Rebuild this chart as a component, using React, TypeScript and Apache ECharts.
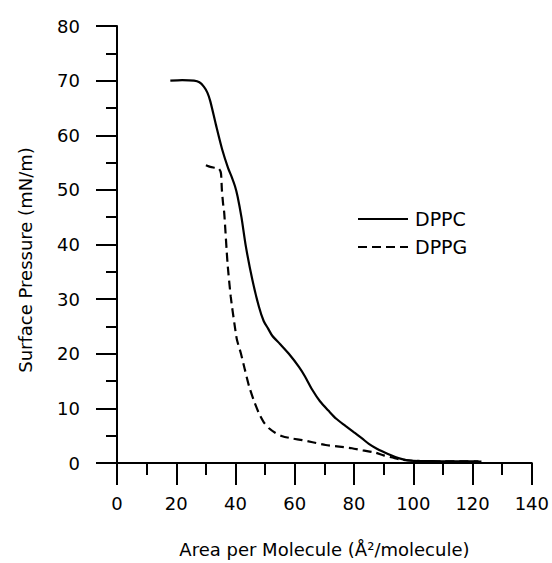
import React, { useEffect, useRef } from "react";
import * as echarts from "echarts";

const xTicks = [0, 20, 40, 60, 80, 100, 120, 140];
const yTicks = [0, 10, 20, 30, 40, 50, 60, 70, 80];

const seriesNames = ["DPPC", "DPPG"];

const dppcArea = [18, 22, 26, 27.8, 29.3, 30.5, 31.5, 33.4, 35.5, 37.5, 38.7, 39.8, 40.7, 42, 43.5, 45.7, 47.9, 49.5, 51, 52.4, 55, 58, 61.4, 63.5, 65.9, 68.5, 71.5, 74, 77.1, 80, 82.7, 85, 87.7, 90, 92.5, 95, 98, 100, 105, 110, 115, 120, 123];
const dppcPressure = [70, 70.1, 70, 69.7, 68.9, 67.8, 66.2, 61.9, 57.4, 54.0, 52.4, 50.7, 48.8, 45, 39.6, 33.5, 28.6, 26.0, 24.6, 23.3, 21.8, 20.0, 17.6, 15.8, 13.4, 11.3, 9.5, 8.1, 6.8, 5.6, 4.5, 3.5, 2.6, 2.0, 1.4, 0.9, 0.5, 0.4, 0.35, 0.3, 0.3, 0.3, 0.25];

const dppgArea = [30, 31.5, 33.4, 34.5, 35.1, 35.4, 35.8, 36.2, 37.3, 38.4, 39.6, 40.5, 41.8, 43.2, 44.6, 46.2, 47.9, 49.5, 51.3, 53.5, 55.8, 59, 62.5, 66, 70.4, 75, 79.3, 83, 87.2, 90, 93, 96, 100, 105, 110, 115, 122];
const dppgPressure = [54.5, 54.2, 54, 53.8, 53, 50, 47.5, 45.7, 36.6, 30.4, 25.6, 22.5, 20.1, 17, 14.0, 11.4, 9.1, 7.5, 6.35, 5.5, 4.9, 4.5, 4.2, 3.8, 3.3, 3.0, 2.7, 2.3, 1.9, 1.4, 1.0, 0.6, 0.4, 0.35, 0.3, 0.3, 0.3];

const xTitle = "Area per Molecule (Å²/molecule)";
const yTitle = "Surface Pressure (mN/m)";

const FONT = "DejaVu Sans";
const DASH = [9, 5];

export default function App() {
  const ref = useRef<HTMLDivElement>(null);
  useEffect(() => {
    if (!ref.current) return;
    const chart = echarts.init(ref.current, null, { renderer: "svg" });
    const zip = (a: number[], b: number[]) => a.map((v, i) => [v, b[i]]);
    const axisCommon = {
      axisLine: { show: true, lineStyle: { color: "#000", width: 2 } },
      axisTick: { show: true, inside: false, lineStyle: { color: "#000", width: 2 } },
      minorTick: { show: true, splitNumber: 2, lineStyle: { color: "#000", width: 2 } },
      splitLine: { show: false },
    };
    const legendRows = [219, 247];
    const legendGraphics: any[] = [];
    seriesNames.forEach((name, i) => {
      legendGraphics.push({
        type: "line",
        shape: { x1: 358, y1: legendRows[i], x2: 408, y2: legendRows[i] },
        style: { stroke: "#000", lineWidth: 2.2, lineDash: i === 0 ? null : DASH },
      });
      legendGraphics.push({
        type: "text",
        x: 415,
        y: legendRows[i],
        style: {
          text: name,
          fill: "#000",
          font: `19px "${FONT}"`,
          align: "left",
          verticalAlign: "middle",
        },
      });
    });
    chart.setOption({
      animation: false,
      backgroundColor: "#fff",
      grid: { left: 117, right: 18, top: 26, bottom: 100, containLabel: false },
      xAxis: {
        type: "value",
        min: xTicks[0],
        max: xTicks[xTicks.length - 1],
        interval: xTicks[1] - xTicks[0],
        ...axisCommon,
        axisTick: { ...axisCommon.axisTick, length: 22 },
        minorTick: { ...axisCommon.minorTick, length: 12 },
        axisLabel: { margin: 31, color: "#000", fontFamily: FONT, fontSize: 18 },
        name: xTitle,
        nameLocation: "middle",
        nameGap: 77,
        nameTextStyle: { color: "#000", fontFamily: FONT, fontSize: 18 },
      },
      yAxis: {
        type: "value",
        min: yTicks[0],
        max: yTicks[yTicks.length - 1],
        interval: yTicks[1] - yTicks[0],
        ...axisCommon,
        axisTick: { ...axisCommon.axisTick, length: 21 },
        minorTick: { ...axisCommon.minorTick, length: 11 },
        axisLabel: { margin: 37, color: "#000", fontFamily: FONT, fontSize: 18 },
      },
      graphic: [
        {
          type: "text",
          x: 25,
          y: 260,
          rotation: Math.PI / 2,
          style: {
            text: yTitle,
            fill: "#000",
            font: `18px "${FONT}"`,
            align: "center",
            verticalAlign: "middle",
          },
        },
        ...legendGraphics,
      ],
      series: [
        {
          name: seriesNames[0],
          type: "line",
          data: zip(dppcArea, dppcPressure),
          showSymbol: false,
          symbol: "none",
          smooth: 0.25,
          lineStyle: { color: "#000", width: 2.2, type: "solid" },
          itemStyle: { color: "#000" },
        },
        {
          name: seriesNames[1],
          type: "line",
          data: zip(dppgArea, dppgPressure),
          showSymbol: false,
          symbol: "none",
          smooth: 0.2,
          lineStyle: { color: "#000", width: 2.2, type: DASH },
          itemStyle: { color: "#000" },
        },
      ],
    });
    return () => chart.dispose();
  }, []);
  return (
    <div
      ref={ref}
      style={{ position: "fixed", left: 0, top: 0, width: 552, height: 563, background: "#fff" }}
    />
  );
}
